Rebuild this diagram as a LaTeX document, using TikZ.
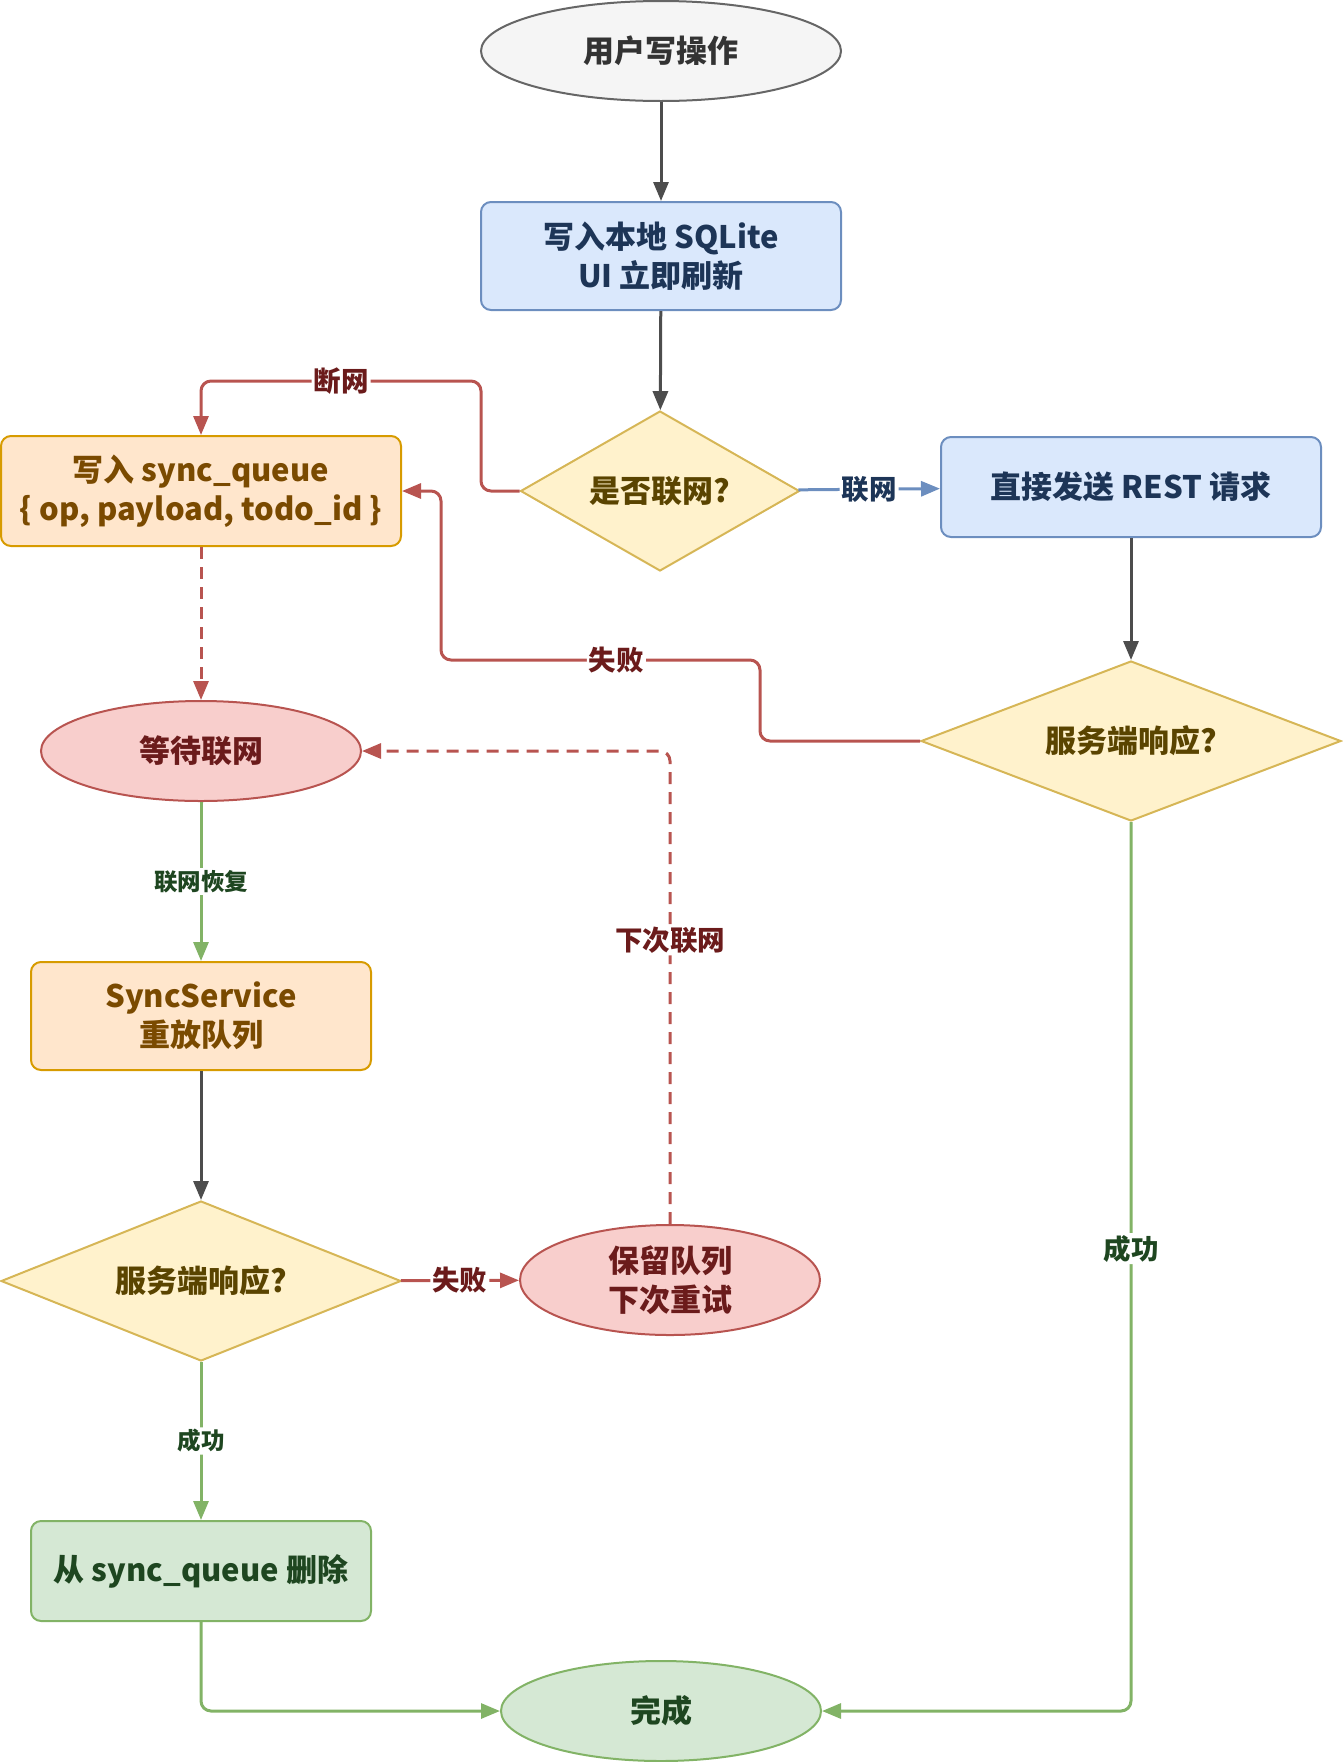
\documentclass[tikz,border=0pt]{standalone}
\usepackage{fontspec}
\setmainfont{Noto Sans CJK SC}
\usetikzlibrary{shapes.geometric,arrows.meta}
\definecolor{grayfill}{HTML}{F5F5F5}
\definecolor{graydraw}{HTML}{666666}
\definecolor{graytext}{HTML}{333333}
\definecolor{bluefill}{HTML}{DAE8FC}
\definecolor{bluedraw}{HTML}{6C8EBF}
\definecolor{bluetext}{HTML}{1D3557}
\definecolor{yellowfill}{HTML}{FFF2CC}
\definecolor{yellowdraw}{HTML}{D6B656}
\definecolor{yellowtext}{HTML}{5A4400}
\definecolor{orangefill}{HTML}{FFE6CC}
\definecolor{orangedraw}{HTML}{D79B00}
\definecolor{orangetext}{HTML}{7A4A00}
\definecolor{redfill}{HTML}{F8CECC}
\definecolor{reddraw}{HTML}{B85450}
\definecolor{redtext}{HTML}{6B1B1B}
\definecolor{greenfill}{HTML}{D5E8D4}
\definecolor{greendraw}{HTML}{82B366}
\definecolor{greentext}{HTML}{1E4620}
\definecolor{arrowgray}{HTML}{4D4D4D}

\begin{document}
\begin{tikzpicture}[x=1pt, y=-1pt, >={Triangle[length=19pt,width=15pt]},
  every node/.style={font=\bfseries\fontsize{31}{39}\selectfont, align=center, inner sep=0pt},
  term/.style={ellipse, line width=2pt, minimum width=320pt, minimum height=100pt},
  proc/.style={rectangle, rounded corners=10pt, line width=2pt},
  ask/.style={diamond, line width=2pt, minimum height=160pt},
  fgray/.style={draw=graydraw, fill=grayfill, text=graytext},
  fblue/.style={draw=bluedraw, fill=bluefill, text=bluetext},
  fyellow/.style={draw=yellowdraw, fill=yellowfill, text=yellowtext},
  forange/.style={draw=orangedraw, fill=orangefill, text=orangetext},
  fred/.style={draw=reddraw, fill=redfill, text=redtext},
  fgreen/.style={draw=greendraw, fill=greenfill, text=greentext},
  link/.style={line width=3pt, rounded corners=10pt, ->},
  lgray/.style={link, draw=arrowgray},
  lblue/.style={link, draw=bluedraw},
  lred/.style={link, draw=reddraw},
  lgreen/.style={link, draw=greendraw},
  lab/.style={fill=white, inner sep=2pt, text=redtext, font=\bfseries\fontsize{27.5}{32}\selectfont},
  slab/.style={lab, text=greentext, font=\bfseries\fontsize{23.5}{27}\selectfont}]
  \useasboundingbox (0,0) rectangle (1342,1762);

  \node[term, fgray, minimum width=360pt] (start) at (661,51) {用户写操作};
  \node[proc, fblue, minimum width=360pt, minimum height=108pt] (sqlite) at (661,256) {写入本地 SQLite\\UI 立即刷新};
  \node[ask, fyellow, aspect=1.75, minimum width=279pt] (online) at (660,491) {是否联网?};
  \node[proc, fblue, minimum width=380pt, minimum height=100pt] (rest) at (1131,487) {直接发送 REST 请求};
  \node[proc, forange, minimum width=400pt, minimum height=110pt] (queue) at (201,491) {写入 sync\_queue\\\{ op, payload, todo\_id \}};
  \node[ask, fyellow, aspect=2.6, minimum width=420pt] (srvR) at (1131,741) {服务端响应?};
  \node[term, fred] (wait) at (201,751) {等待联网};
  \node[proc, forange, minimum width=340pt, minimum height=108pt] (replay) at (201,1016) {SyncService\\重放队列};
  \node[ask, fyellow, aspect=2.5, minimum width=400pt] (srvL) at (201,1281) {服务端响应?};
  \node[term, fred, minimum width=300pt, minimum height=110pt] (keep) at (670,1280) {保留队列\\下次重试};
  \node[proc, fgreen, minimum width=340pt, minimum height=100pt] (del) at (201,1571) {从 sync\_queue 删除};
  \node[term, fgreen] (done) at (661,1711) {完成};

  \draw[lgray] (start) -- (sqlite);
  \draw[lgray] (sqlite) -- (online);
  \draw[lblue] (online) -- node[lab, text=bluetext] {联网} (rest);
  \draw[lred] (online.west) -- (481,491) |- node[lab, pos=0.75] {断网} (201,381) -- (queue.north);
  \draw[lred] (srvR.west) -- (760,741) -- (760,660) -- node[lab, pos=0.45] {失败} (441,660) -- (441,491) -- (queue.east);
  \draw[lgray] (rest) -- (srvR);
  \draw[lgreen] (srvR.south) |- node[lab, text=greentext, pos=0.24] {成功} (done.east);
  \draw[lred, dash pattern=on 12pt off 8pt] (queue) -- (wait);
  \draw[lgreen] (wait) -- node[slab] {联网恢复} (replay);
  \draw[lgray] (replay) -- (srvL);
  \draw[lred] (srvL) -- node[lab] {失败} (keep);
  \draw[lred, dash pattern=on 12pt off 8pt] (keep.north) |- node[lab, pos=0.3] {下次联网} (wait.east);
  \draw[lgreen] (srvL) -- node[slab] {成功} (del);
  \draw[lgreen] (del.south) |- (done.west);
\end{tikzpicture}
\end{document}
